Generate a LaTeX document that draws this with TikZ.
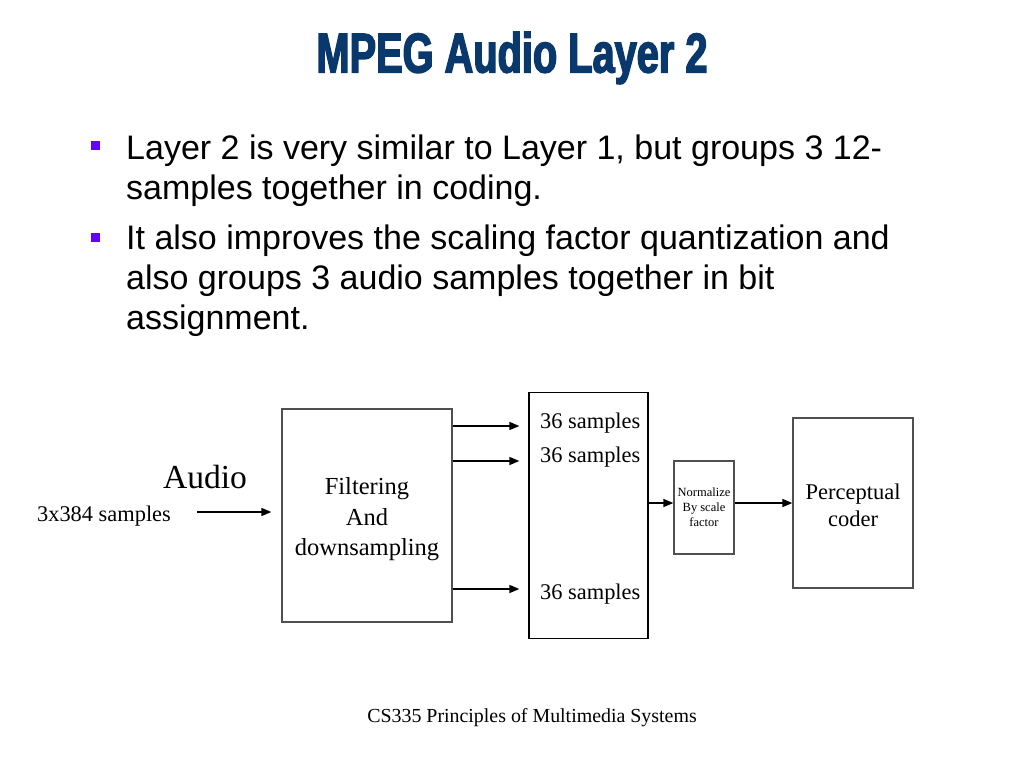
\documentclass[tikz,border=0pt]{standalone}
\usepackage{fontspec}
\setmainfont{Liberation Serif}
\newfontfamily\arialfont{Liberation Sans}
\newfontfamily\titlefont[FakeStretch=0.71,FakeBold=2.5]{Liberation Sans Bold}
\usetikzlibrary{arrows.meta}
\definecolor{titleblue}{RGB}{8,56,108}
\definecolor{bulletpurple}{RGB}{102,0,255}
\definecolor{boxgray}{RGB}{80,80,80}
\tikzset{
  blk/.style={draw=boxgray, line width=1.3pt, inner sep=0pt, align=center},
  arr/.style={line width=1.5pt, -{Triangle[length=10pt,width=8pt]}},
  bul/.style={fill=bulletpurple, minimum size=9pt, inner sep=0pt},
  btxt/.style={anchor=west, inner sep=0pt, font=\arialfont\fontsize{34}{40}\selectfont},
  sm/.style={anchor=west, inner sep=0pt, font=\fontsize{22.4}{26}\selectfont},
  lbl/.style={inner sep=0pt, align=center}
}
\begin{document}
\begin{tikzpicture}[x=1pt,y=-1pt]
\useasboundingbox[fill=white] (0,0) rectangle (1024,768);
% title
\node[inner sep=0pt, text=titleblue, font=\titlefont\fontsize{56}{62}\selectfont] (title) at (512,58) {MPEG Audio Layer 2};
% bullets
\node[bul] (b1) at (95,145) {};
\node[bul] (b2) at (95,237) {};
\node[btxt] (l1) at (126,151) {Layer 2 is very similar to Layer 1, but groups 3 12-};
\node[btxt] (l2) at (126,191) {samples together in coding.};
\node[btxt] (l3) at (126,241) {It also improves the scaling factor quantization and};
\node[btxt] (l4) at (126,281) {also groups 3 audio samples together in bit};
\node[btxt] (l5) at (126,321) {assignment.};
% diagram
\node[lbl, font=\fontsize{33.6}{38}\selectfont] (audio) at (205,477) {Audio};
\node[lbl, font=\fontsize{22.4}{26}\selectfont] (insz) at (104,516) {3x384 samples};
\coordinate (inarr) at (197,512);
\node[blk, minimum width=170pt, minimum height=213pt] (filt) at (367,515.5) {};
\node[lbl, font=\fontsize{24.5}{30.5}\selectfont] (filttxt) at (367,519.5) {Filtering\\And\\downsampling};
\node[blk, draw=black, minimum width=119pt, minimum height=246pt] (samp) at (588.5,515.5) {};
\node[sm] (s1) at (540,423.5) {36 samples};
\node[sm] (s2) at (540,457.5) {36 samples};
\node[sm] (s3) at (540,594) {36 samples};
\node[blk, minimum width=60pt, minimum height=93pt, font=\fontsize{12.5}{15}\selectfont] (norm) at (704,507.5) {Normalize\\By scale\\factor};
\node[blk, minimum width=120pt, minimum height=170pt] (perc) at (853,503) {};
\node[lbl, font=\fontsize{22.5}{27}\selectfont] (perctxt) at (853,505) {Perceptual\\coder};
% connectors
\draw[arr, shorten >=10pt] (inarr) -- (filt.west |- inarr);
\draw[arr, shorten >=9pt] (filt.east |- 0,426) -- (samp.west |- 0,426);
\draw[arr, shorten >=9pt] (filt.east |- 0,461) -- (samp.west |- 0,461);
\draw[arr, shorten >=9pt] (filt.east |- 0,589) -- (samp.west |- 0,589);
\draw[arr] (samp.east |- 0,503) -- (norm.west |- 0,503);
\draw[arr] (norm.east |- 0,503) -- (perc.west |- 0,503);
% footer
\node[lbl, font=\fontsize{19.9}{24}\selectfont] (foot) at (532,718) {CS335 Principles of Multimedia Systems};
\end{tikzpicture}
\end{document}
